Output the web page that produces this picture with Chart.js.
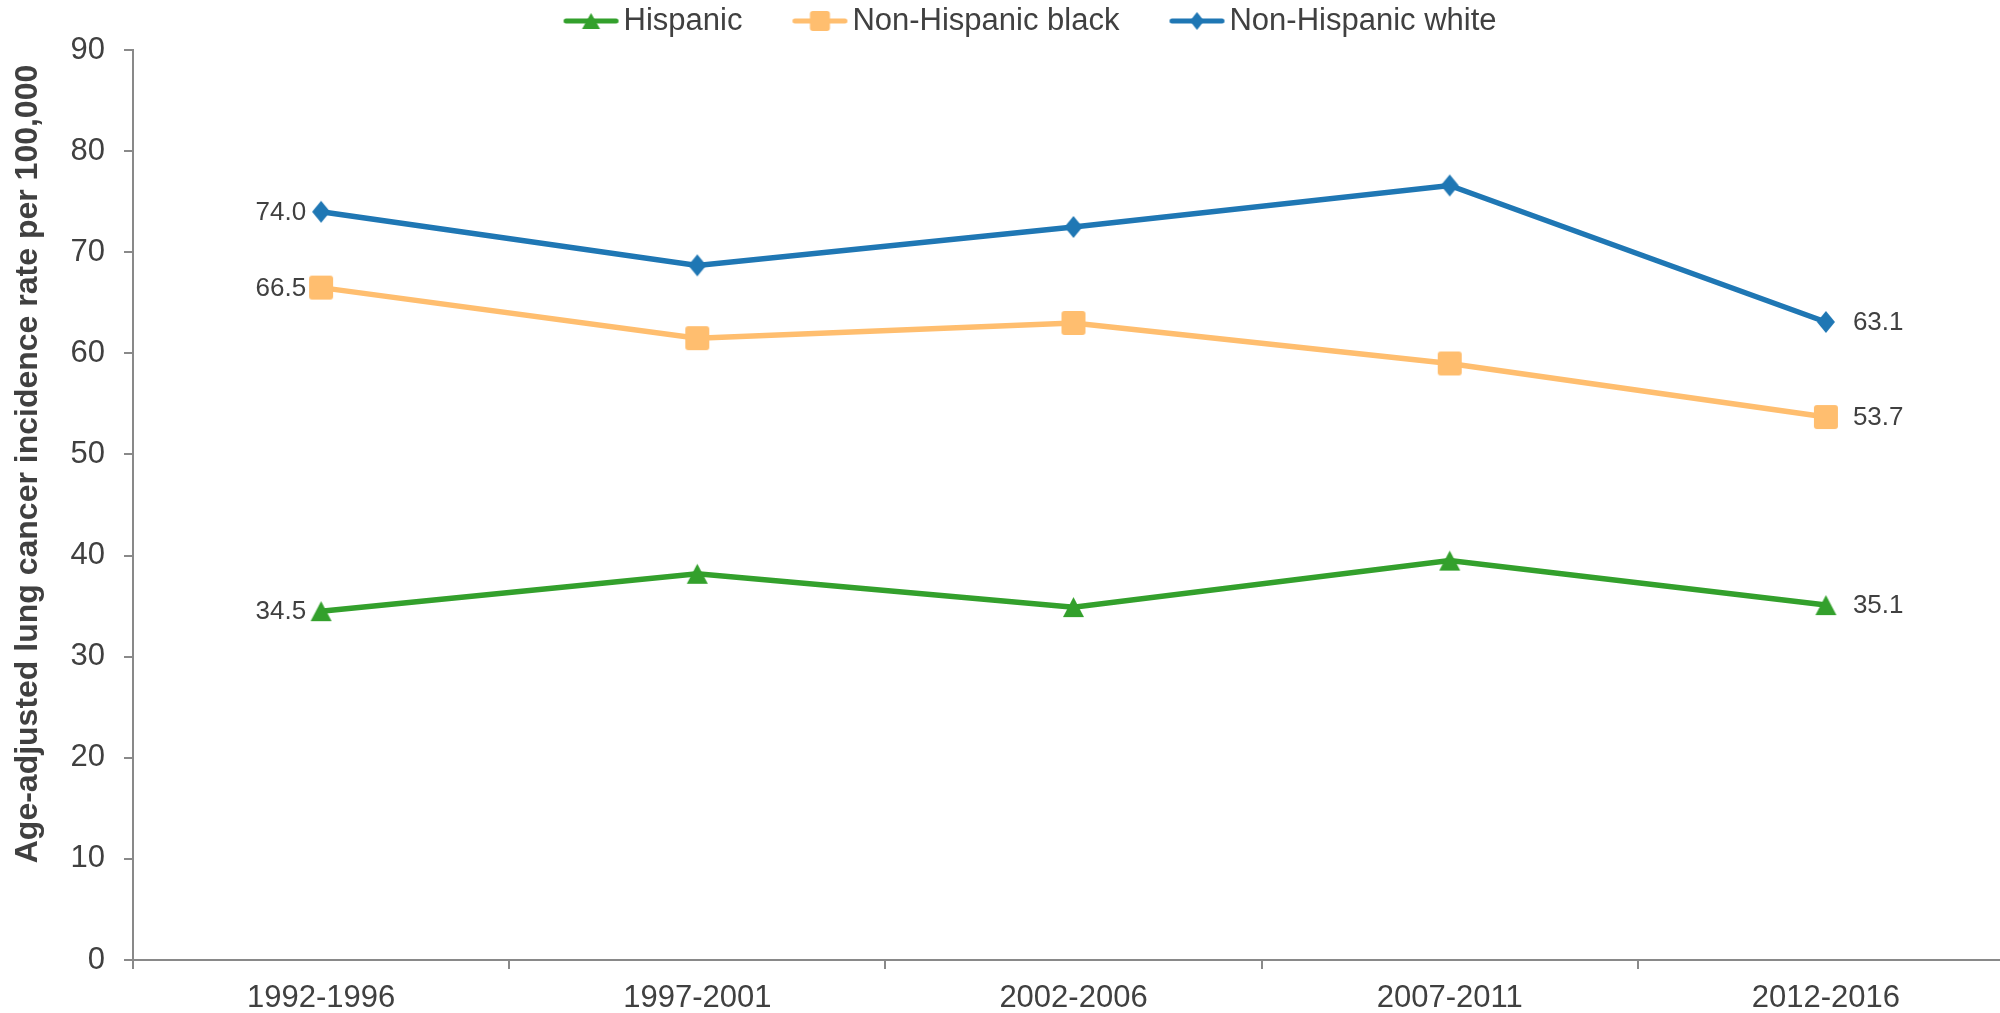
<!DOCTYPE html>
<html>
<head>
<meta charset="utf-8">
<script src="https://cdn.jsdelivr.net/npm/chart.js@4"></script>
<style>
html,body{margin:0;padding:0;background:#fff;overflow:hidden;width:2000px;height:1013px}
#wrap{position:absolute;left:0;top:0;width:2000px;height:1013px;overflow:hidden}
canvas{display:block}
</style>
</head>
<body>
<div id="wrap"><canvas id="c"></canvas></div>
<script>
// ---- data ----
const categories = ['1992-1996', '1997-2001', '2002-2006', '2007-2011', '2012-2016'];
const hispanic = [34.5, 38.2, 34.9, 39.5, 35.1];
const nhBlack = [66.5, 61.5, 63.0, 59.0, 53.7];
const nhWhite = [74.0, 68.7, 72.5, 76.6, 63.1];
const seriesNames = ['Hispanic', 'Non-Hispanic black', 'Non-Hispanic white'];
const yTickValues = [0, 10, 20, 30, 40, 50, 60, 70, 80, 90];
const yTitle = 'Age-adjusted lung cancer incidence rate per 100,000';

// ---- styles ----
const FONT = '"Liberation Sans", Arial, Helvetica, sans-serif';
const TEXT = '#404040';
const AXIS = '#898989';
const colors = ['#33A02C', '#FFBE6F', '#1F77B4'];
const shapes = ['triangle', 'square', 'diamond'];
const PLOT_RIGHT = 2014; // plot area runs slightly past the right edge (cropped, as in the reference)

function shapePath(ctx, shape, cx, cy, w, h) {
  ctx.beginPath();
  if (shape === 'triangle') {
    ctx.moveTo(cx, cy - h / 2);
    ctx.lineTo(cx + w / 2, cy + h / 2);
    ctx.lineTo(cx - w / 2, cy + h / 2);
    ctx.closePath();
  } else if (shape === 'diamond') {
    ctx.moveTo(cx, cy - h / 2);
    ctx.lineTo(cx + w / 2, cy);
    ctx.lineTo(cx, cy + h / 2);
    ctx.lineTo(cx - w / 2, cy);
    ctx.closePath();
  } else {
    const r = 3, x = cx - w / 2, y = cy - h / 2;
    ctx.moveTo(x + r, y);
    ctx.arcTo(x + w, y, x + w, y + h, r);
    ctx.arcTo(x + w, y + h, x, y + h, r);
    ctx.arcTo(x, y + h, x, y, r);
    ctx.arcTo(x, y, x + w, y, r);
    ctx.closePath();
  }
}

function makeMarker(shape, color, w, h, lineLen) {
  const cw = Math.max(w, lineLen || 0) + 4, ch = h + 4;
  const cv = document.createElement('canvas');
  cv.width = cw; cv.height = ch;
  const ctx = cv.getContext('2d');
  if (lineLen) {
    ctx.strokeStyle = color;
    ctx.lineWidth = 5;
    ctx.lineCap = 'round';
    ctx.beginPath();
    ctx.moveTo(cw / 2 - lineLen / 2 + 2.5, ch / 2);
    ctx.lineTo(cw / 2 + lineLen / 2 - 2.5, ch / 2);
    ctx.stroke();
  }
  ctx.fillStyle = color;
  shapePath(ctx, shape, cw / 2, ch / 2, w, h);
  ctx.fill();
  return cv;
}

const markerSize = { triangle: [21, 20], square: [24, 24], diamond: [18, 22] };
const legendMarkerSize = { triangle: [18, 16], square: [20, 20], diamond: [14, 18] };

const pointImgs = shapes.map((s, i) => makeMarker(s, colors[i], markerSize[s][0], markerSize[s][1]));
const legendImgs = shapes.map((s, i) => makeMarker(s, colors[i], legendMarkerSize[s][0], legendMarkerSize[s][1], 55));

const seriesData = [hispanic, nhBlack, nhWhite];

const datasets = seriesData.map((d, i) => ({
  label: seriesNames[i],
  data: d,
  borderColor: colors[i],
  backgroundColor: colors[i],
  borderWidth: 5.5,
  pointStyle: pointImgs[i],
  pointRadius: 12,
  tension: 0,
  fill: false
}));

const extendPlot = {
  id: 'extendPlot',
  afterLayout(chart) {
    const xs = chart.scales.x;
    xs.right = PLOT_RIGHT;
    xs.width = xs.right - xs.left;
    xs.configure();
    chart.chartArea.right = PLOT_RIGHT;
    chart.chartArea.width = PLOT_RIGHT - chart.chartArea.left;
  }
};

const extras = {
  id: 'extras',
  afterDraw(chart) {
    const ctx = chart.ctx;
    // y-axis title
    ctx.save();
    ctx.fillStyle = TEXT;
    ctx.font = 'bold 32px ' + FONT;
    ctx.translate(28, 464);
    ctx.rotate(-Math.PI / 2);
    ctx.textAlign = 'center';
    ctx.textBaseline = 'middle';
    ctx.fillText(yTitle, 0, 0);
    ctx.restore();

    // data labels (first & last point)
    ctx.save();
    ctx.fillStyle = TEXT;
    ctx.font = '26px ' + FONT;
    ctx.textBaseline = 'middle';
    chart.data.datasets.forEach((ds, i) => {
      const pts = chart.getDatasetMeta(i).data;
      const first = pts[0], last = pts[pts.length - 1];
      ctx.textAlign = 'right';
      ctx.fillText(ds.data[0].toFixed(1), first.x - 15, first.y + 1);
      ctx.textAlign = 'left';
      ctx.fillText(ds.data[ds.data.length - 1].toFixed(1), last.x + 27, last.y + 1);
    });
    ctx.restore();

    // legend
    ctx.save();
    ctx.font = '31px ' + FONT;
    ctx.fillStyle = TEXT;
    ctx.textBaseline = 'middle';
    ctx.textAlign = 'left';
    const lineW = 55, gapText = 5, gapItem = 50, ly = 21;
    const widths = seriesNames.map(n => lineW + gapText + ctx.measureText(n).width);
    const total = widths.reduce((a, b) => a + b, 0) + gapItem * (widths.length - 1);
    let x = 1030 - total / 2;
    seriesNames.forEach((n, i) => {
      const img = legendImgs[i];
      ctx.drawImage(img, x + lineW / 2 - img.width / 2, ly - img.height / 2);
      ctx.fillText(n, x + lineW + gapText, ly);
      x += widths[i] + gapItem;
    });
    ctx.restore();
  }
};

new Chart(document.getElementById('c'), {
  type: 'line',
  data: { labels: categories, datasets },
  options: {
    responsive: true,
    maintainAspectRatio: false,
    animation: false,
    events: [],
    devicePixelRatio: 1,
    layout: { padding: { top: 50, left: 0, right: 0, bottom: 0 } },
    plugins: { legend: { display: false }, tooltip: { enabled: false } },
    scales: {
      x: {
        offset: true,
        grid: { offset: true, drawOnChartArea: false, drawTicks: true, tickLength: 9, color: AXIS, lineWidth: 2 },
        border: { display: true, color: AXIS, width: 2 },
        ticks: { color: TEXT, font: { family: FONT, size: 31 }, padding: 11, maxRotation: 0, autoSkip: false },
        afterFit: s => { s.height = 53; }
      },
      y: {
        min: 0,
        max: 90,
        afterBuildTicks: s => { s.ticks = yTickValues.map(v => ({ value: v })); },
        grid: { drawOnChartArea: false, drawTicks: true, tickLength: 9, color: AXIS, lineWidth: 2 },
        border: { display: true, color: AXIS, width: 2 },
        ticks: { color: TEXT, font: { family: FONT, size: 31 }, padding: 19 },
        afterFit: s => { s.width = 133; }
      }
    }
  },
  plugins: [extendPlot, extras]
});
</script>
</body>
</html>
